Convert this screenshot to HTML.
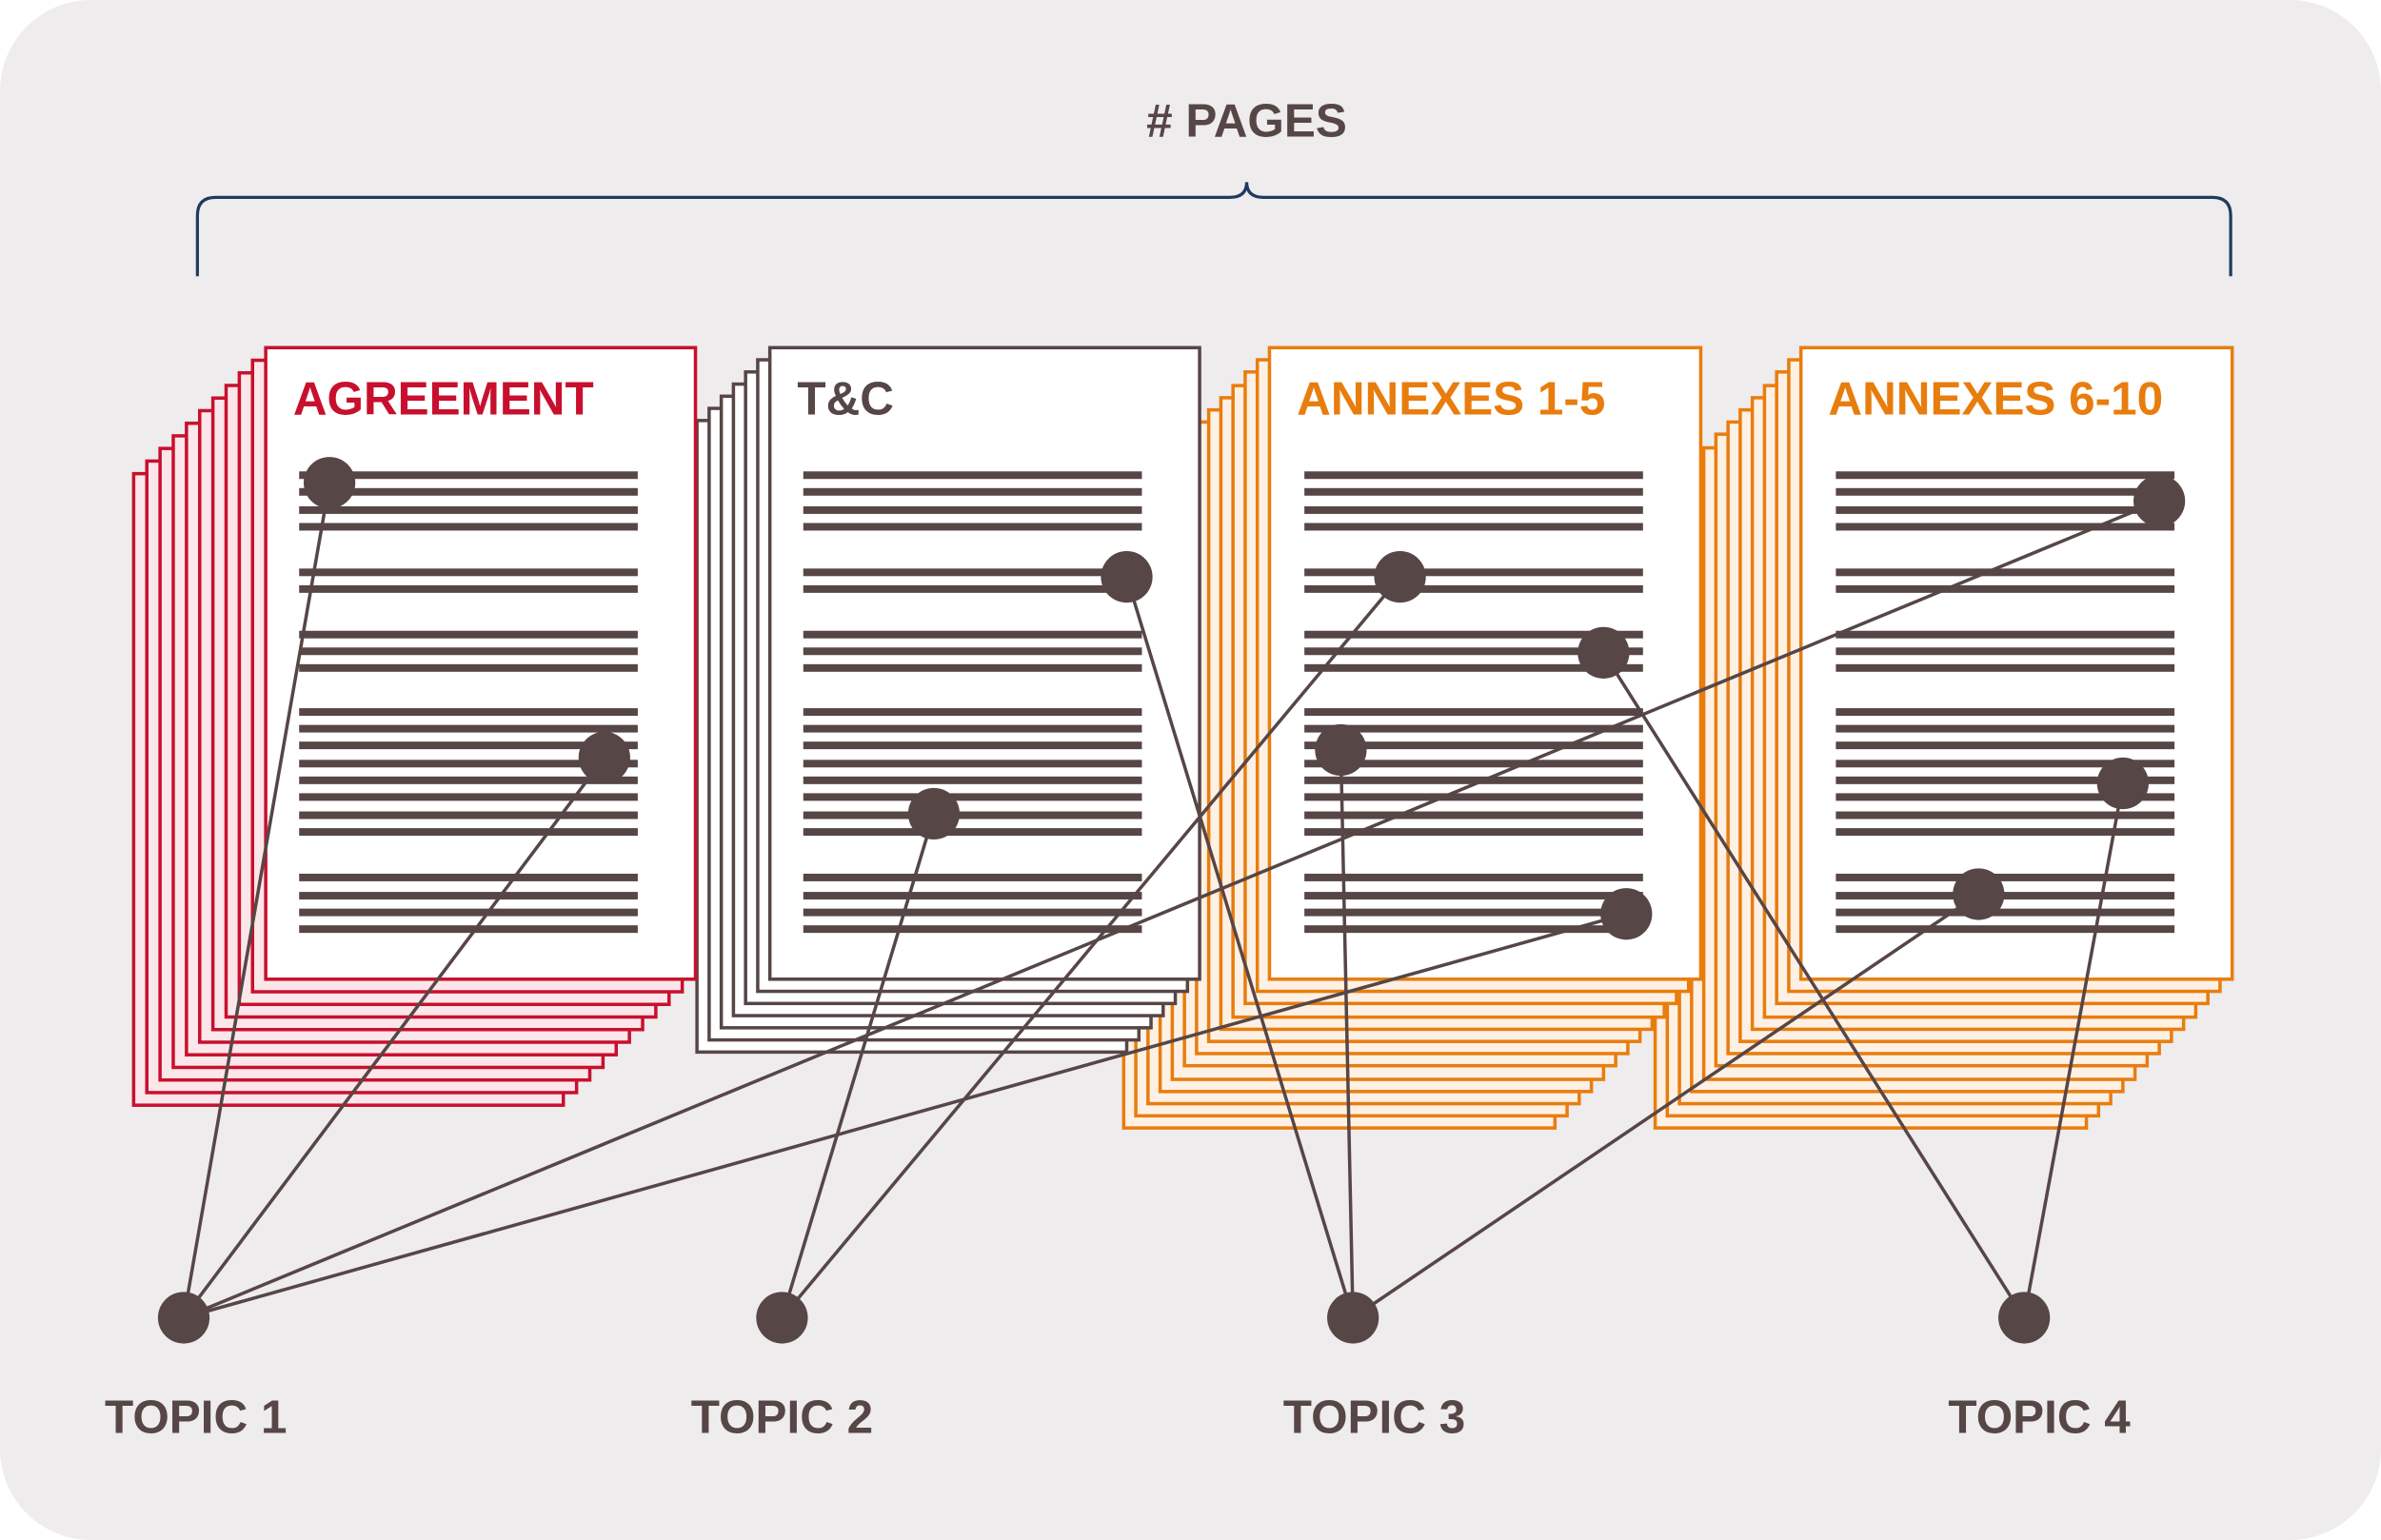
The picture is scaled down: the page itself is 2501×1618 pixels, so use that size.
<!DOCTYPE html>
<html><head><meta charset="utf-8"><style>
html,body{margin:0;padding:0;background:#fff}
svg{display:block}
text{font-family:"Liberation Sans",Arial,sans-serif;font-weight:bold}
</style></head><body>
<svg width="2501" height="1618" viewBox="0 0 1568 1014.4" preserveAspectRatio="none" xmlns="http://www.w3.org/2000/svg">
<defs>
<g id="ln" fill="#574646">
<rect x="22" y="81.5" width="223" height="5"/><rect x="22" y="92.5" width="223" height="5"/><rect x="22" y="104.5" width="223" height="5"/><rect x="22" y="115.5" width="223" height="5"/>
<rect x="22" y="145.5" width="223" height="5"/><rect x="22" y="156.5" width="223" height="5"/>
<rect x="22" y="186.5" width="223" height="5"/><rect x="22" y="197.5" width="223" height="5"/><rect x="22" y="208.5" width="223" height="5"/>
<rect x="22" y="237.5" width="223" height="5"/><rect x="22" y="248.5" width="223" height="5"/><rect x="22" y="259.5" width="223" height="5"/><rect x="22" y="271.5" width="223" height="5"/><rect x="22" y="282.5" width="223" height="5"/><rect x="22" y="293.5" width="223" height="5"/><rect x="22" y="305.5" width="223" height="5"/><rect x="22" y="316.5" width="223" height="5"/>
<rect x="22" y="346.5" width="223" height="5"/><rect x="22" y="358.5" width="223" height="5"/><rect x="22" y="369.5" width="223" height="5"/><rect x="22" y="380.5" width="223" height="5"/>
</g>
</defs>
<rect x="0" y="0" width="1568" height="1014.4" rx="60" fill="#eeeced"/>
<text x="821" y="90" font-size="31" fill="#574646" text-anchor="middle"># PAGES</text>
<path d="M130 182 V142 Q130 130 142 130 H810 Q821 130 821 120 Q821 130 832 130 H1457 Q1469 130 1469 142 V182" fill="none" stroke="#1f3a5f" stroke-width="2"/>

<g fill="#fdf0e4" stroke="#e87d0e" stroke-width="2.2">
<rect x="1090" y="327" width="284" height="416"/><rect x="1098" y="319" width="284" height="416"/><rect x="1106" y="311" width="284" height="416"/><rect x="1114" y="303" width="284" height="416"/><rect x="1122" y="295" width="284" height="416"/><rect x="1130" y="286" width="284" height="416"/><rect x="1138" y="278" width="284" height="416"/><rect x="1146" y="270" width="284" height="416"/><rect x="1154" y="262" width="284" height="416"/><rect x="1162" y="254" width="284" height="416"/><rect x="1170" y="245" width="284" height="416"/><rect x="1178" y="237" width="284" height="416"/>
<rect x="1186" y="229" width="284" height="416" fill="#fff"/>
</g>
<use href="#ln" x="1187" y="229"/>
<g fill="#fdf0e4" stroke="#e87d0e" stroke-width="2.2">
<rect x="740" y="327" width="284" height="416"/><rect x="748" y="319" width="284" height="416"/><rect x="756" y="311" width="284" height="416"/><rect x="764" y="303" width="284" height="416"/><rect x="772" y="295" width="284" height="416"/><rect x="780" y="286" width="284" height="416"/><rect x="788" y="278" width="284" height="416"/><rect x="796" y="270" width="284" height="416"/><rect x="804" y="262" width="284" height="416"/><rect x="812" y="254" width="284" height="416"/><rect x="820" y="245" width="284" height="416"/><rect x="828" y="237" width="284" height="416"/>
<rect x="836" y="229" width="284" height="416" fill="#fff"/>
</g>
<use href="#ln" x="837" y="229"/>
<g fill="#fff" stroke="#574646" stroke-width="2.2">
<rect x="459" y="277" width="283" height="416"/><rect x="467" y="269" width="283" height="416"/><rect x="475" y="261" width="283" height="416"/><rect x="483" y="253" width="283" height="416"/><rect x="491" y="245" width="283" height="416"/><rect x="499" y="237" width="283" height="416"/>
<rect x="507" y="229" width="283" height="416"/>
</g>
<use href="#ln" x="507" y="229"/>
<g fill="#fbe6ea" stroke="#c8102e" stroke-width="2.2">
<rect x="88" y="312" width="283" height="416"/><rect x="96.7" y="303.7" width="283" height="416"/><rect x="105.4" y="295.4" width="283" height="416"/><rect x="114.1" y="287.1" width="283" height="416"/><rect x="122.8" y="278.8" width="283" height="416"/><rect x="131.5" y="270.5" width="283" height="416"/><rect x="140.2" y="262.2" width="283" height="416"/><rect x="148.9" y="253.9" width="283" height="416"/><rect x="157.6" y="245.6" width="283" height="416"/><rect x="166.3" y="237.3" width="283" height="416"/>
<rect x="175" y="229" width="283" height="416" fill="#fff"/>
</g>
<use href="#ln" x="175" y="229"/>

<text x="193" y="273" font-size="31" fill="#c8102e">AGREEMENT</text>
<text x="525" y="273" font-size="31" fill="#574646">T&amp;C</text>
<text x="854" y="273" font-size="31" fill="#e87d0e">ANNEXES 1-5</text>
<text x="1204" y="273" font-size="31" fill="#e87d0e">ANNEXES 6-10</text>

<g stroke="#574646" stroke-width="2.2" fill="none">
<line x1="121" y1="868" x2="217" y2="318"/><line x1="121" y1="868" x2="398" y2="499"/><line x1="121" y1="868" x2="1422" y2="330"/><line x1="121" y1="868" x2="1071" y2="602"/>
<line x1="515" y1="868" x2="615" y2="536"/><line x1="515" y1="868" x2="922" y2="380"/>
<line x1="891" y1="868" x2="742" y2="380"/><line x1="891" y1="868" x2="883" y2="494"/><line x1="891" y1="868" x2="1303" y2="589"/>
<line x1="1333" y1="868" x2="1056" y2="430"/><line x1="1333" y1="868" x2="1398" y2="516"/>
</g>
<g fill="#574646">
<circle cx="217" cy="318" r="17"/><circle cx="398" cy="499" r="17"/>
<circle cx="742" cy="380" r="17"/><circle cx="615" cy="536" r="17"/>
<circle cx="922" cy="380" r="17"/><circle cx="1056" cy="430" r="17"/><circle cx="883" cy="494" r="17"/><circle cx="1071" cy="602" r="17"/>
<circle cx="1422" cy="330" r="17"/><circle cx="1398" cy="516" r="17"/><circle cx="1303" cy="589" r="17"/>
<circle cx="121" cy="868" r="17"/><circle cx="515" cy="868" r="17"/><circle cx="891" cy="868" r="17"/><circle cx="1333" cy="868" r="17"/>
</g>
<g font-size="31" fill="#574646">
<text x="69" y="944">TOPIC 1</text>
<text x="455" y="944">TOPIC 2</text>
<text x="845" y="944">TOPIC 3</text>
<text x="1283" y="944">TOPIC 4</text>
</g>
</svg>
</body></html>
